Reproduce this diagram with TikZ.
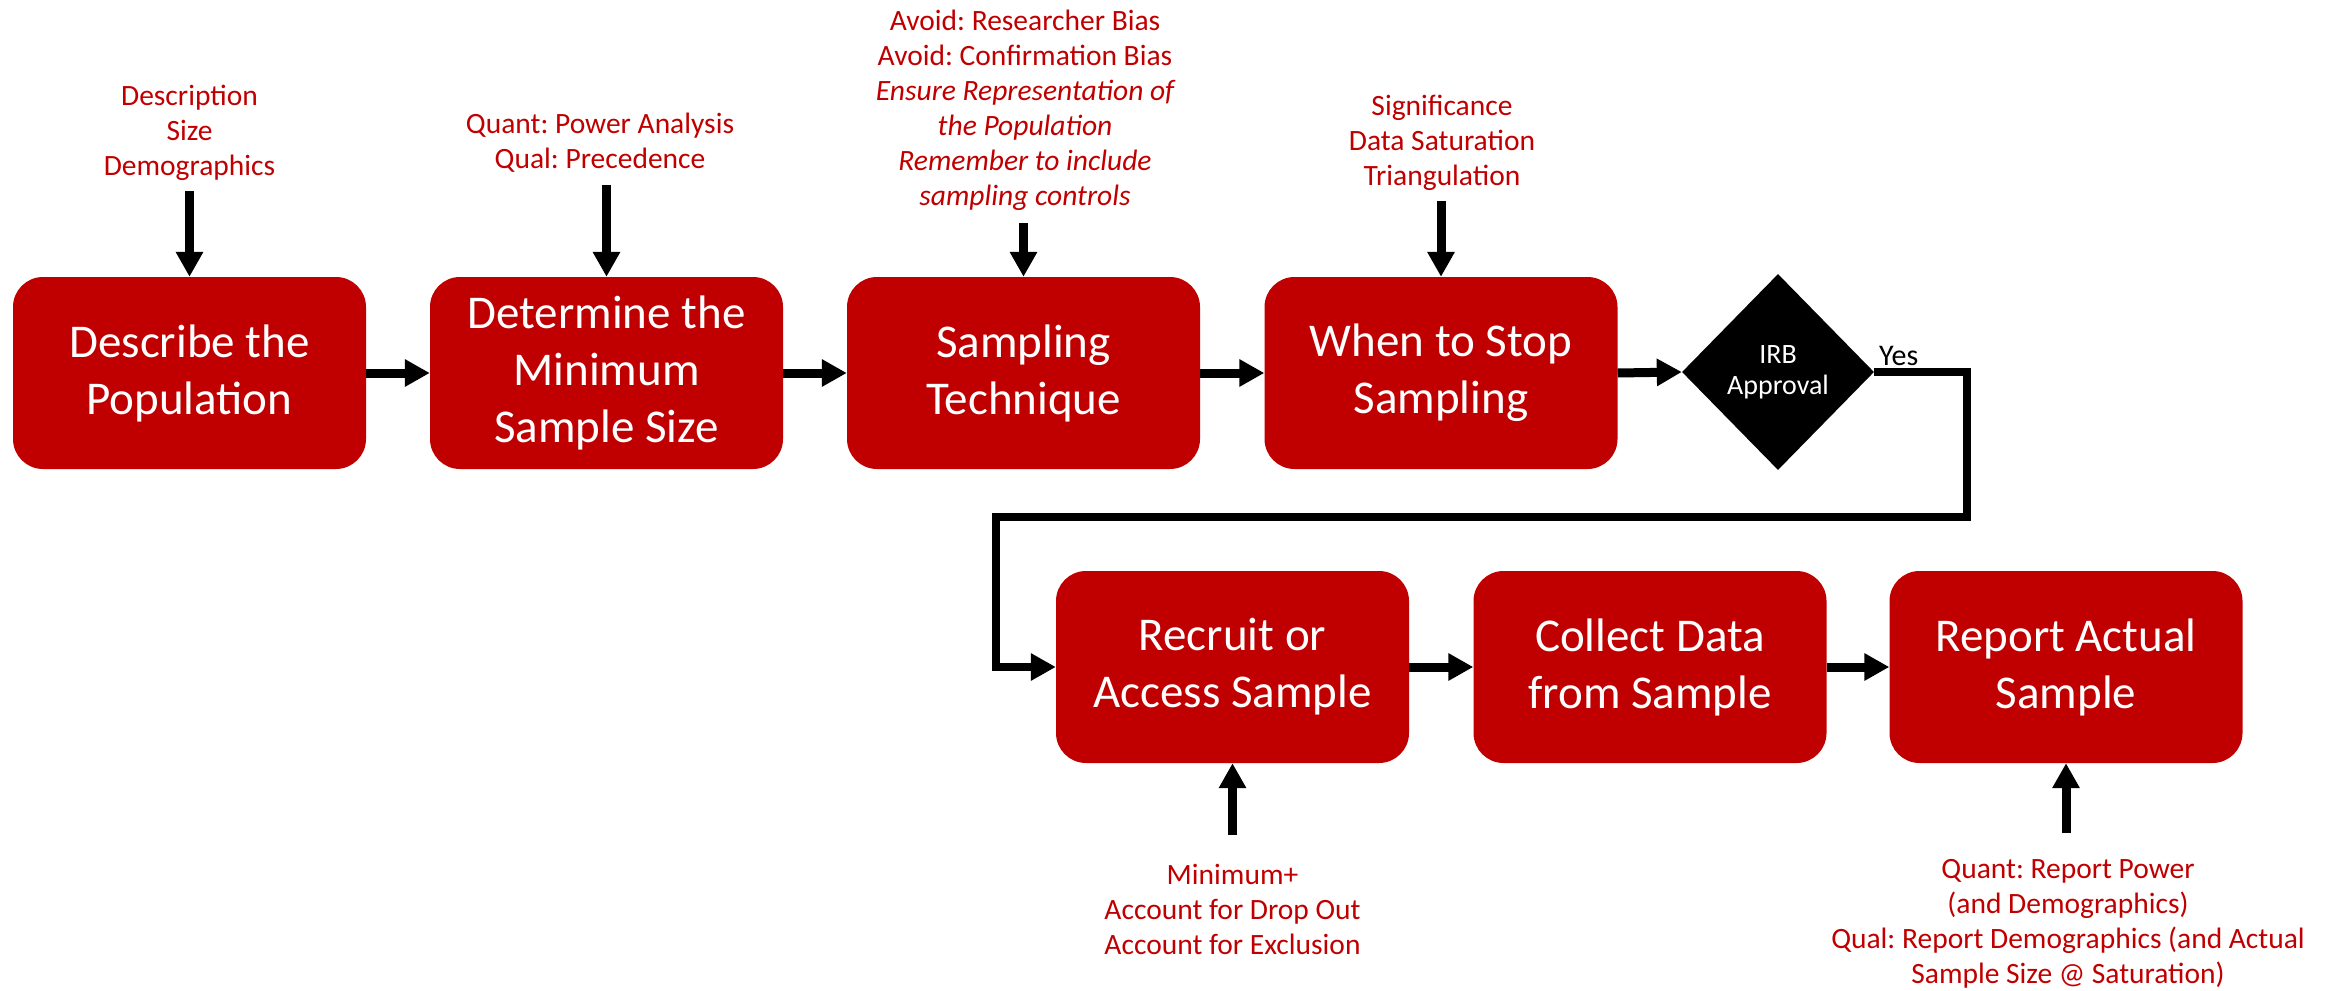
\documentclass[tikz,border=0pt]{standalone}
\usepackage{fontspec}
\setmainfont{Carlito}
\frenchspacing
\usetikzlibrary{arrows.meta,shapes.geometric}
\definecolor{boxred}{HTML}{C00000}
\begin{document}
\begin{tikzpicture}[x=1pt,y=-1pt,
  stepbox/.style={fill=boxred, rounded corners=30pt, minimum width=353pt,
    minimum height=192pt, inner sep=0pt, text=white, align=center,
    font=\fontsize{47}{57}\selectfont},
  note/.style={text=boxred, align=center, inner sep=0pt,
    font=\fontsize{29.5}{35}\selectfont},
  flow/.style={line width=9pt, -{Triangle[length=25pt,width=26pt]}},
  link/.style={line width=8pt, line join=miter, -{Triangle[length=25pt,width=26pt]}},
]
\useasboundingbox (0,0) rectangle (2325,990);

% process steps, upper row
\node[stepbox] (s1) at (189.5,373) {Describe the\\Population};
\node[stepbox] (s2) at (606.5,373) {Determine the\\Minimum\\Sample Size};
\node[stepbox] (s3) at (1023.5,373) {Sampling\\Technique};
\node[stepbox] (s4) at (1441,373) {When to Stop\\Sampling};

% decision
\node[diamond, fill=black, minimum width=192pt, minimum height=196pt,
  inner sep=0pt, text=white, align=center,
  font=\fontsize{28}{31}\selectfont] (irb) at (1778,372) {IRB\\Approval};
\node[anchor=base west, inner sep=0pt, font=\fontsize{30}{32}\selectfont]
  (yes) at (1879,365) {Yes};

% process steps, lower row
\node[stepbox] (s5) at (1232.5,667) {Recruit or\\Access Sample};
\node[stepbox] (s6) at (1650,667) {Collect Data\\from Sample};
\node[stepbox] (s7) at (2066,667) {Report Actual\\Sample};

% notes feeding the steps
\node[note] (n1) at (189.5,133) {Description\\Size\\Demographics};
\node[note] (n2) at (600,143) {Quant: Power Analysis\\Qual: Precedence};
\node[note] (n3) at (1025,110) {Avoid: Researcher Bias\\Avoid: Confirmation Bias\\
  \itshape Ensure Representation of\\\itshape the Population\\
  \itshape Remember to include\\\itshape sampling controls};
\node[note] (n4) at (1442,143) {Significance\\Data Saturation\\Triangulation};
\node[note] (n5) at (1232.5,909) {Minimum+\\Account for Drop Out\\Account for Exclusion};
\node[note] (n7) at (2068,924) {Quant: Report Power\\(and Demographics)\\
  Qual: Report Demographics (and Actual\\Sample Size @ Saturation)};

% arrow starts
\coordinate (t1) at (189.5,191);
\coordinate (t2) at (606.5,185);
\coordinate (t3) at (1023.5,223);
\coordinate (t4) at (1441,201);
\coordinate (b5) at (1232.5,835);
\coordinate (b7) at (2066,833);
\coordinate (r2) at (1967,517);
\coordinate (r3) at (996,517);

% connectors
\draw[flow] (s1.east) -- (s2.west);
\draw[flow] (s2.east) -- (s3.west);
\draw[flow] (s3.east) -- (s4.west);
\draw[flow] (s4.east) -- (irb.west);
\draw[link] (irb.east) -| (r2) -- (r3) |- (s5.west);
\draw[flow] (s5.east) -- (s6.west);
\draw[flow] (s6.east) -- (s7.west);

\draw[flow] (t1) -- (s1.north);
\draw[flow] (t2) -- (s2.north);
\draw[flow] (t3) -- (s3.north);
\draw[flow] (t4) -- (s4.north);
\draw[flow] (b5) -- (s5.south);
\draw[flow] (b7) -- (s7.south);
\end{tikzpicture}
\end{document}
